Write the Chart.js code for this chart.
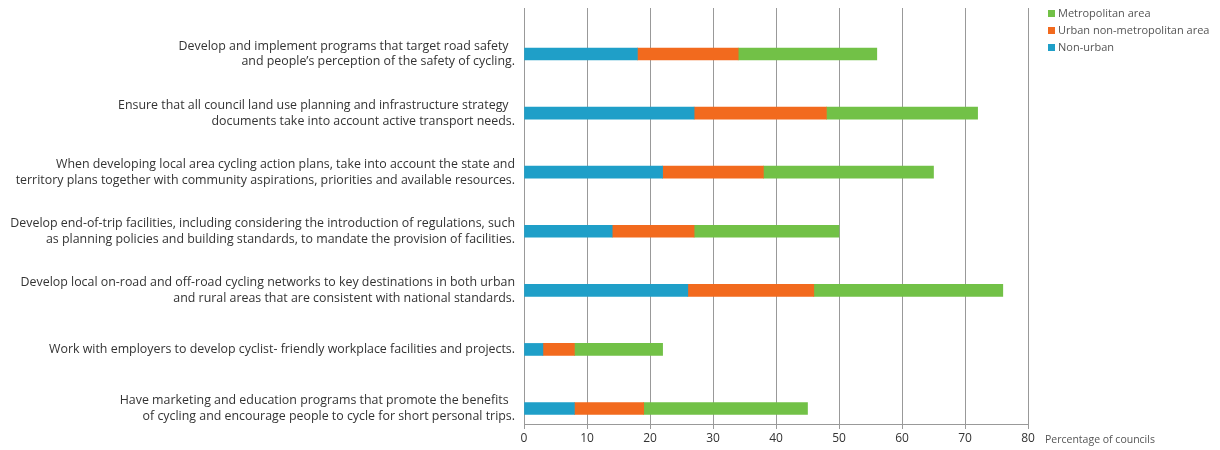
<!DOCTYPE html>
<html>
<head>
<meta charset="utf-8">
<script src="https://cdn.jsdelivr.net/npm/chart.js@4"></script>
<style>
  html, body { margin: 0; padding: 0; background: #fff; }
  #wrap { width: 1220px; height: 450px; }
</style>
</head>
<body>
<div id="wrap"><canvas id="chart"></canvas></div>
<script>
const categories = [
    ['Develop and implement programs that target road safety  ', 'and people\u2019s perception of the safety of cycling.'],
    ['Ensure that all council land use planning and infrastructure strategy  ', 'documents take into account active transport needs.'],
    ['When developing local area cycling action plans, take into account the state and', 'territory plans together with community aspirations, priorities and available resources.'],
    ['Develop end-of-trip facilities, including considering the introduction of regulations, such', 'as planning policies and building standards, to mandate the provision of facilities.'],
    ['Develop local on-road and off-road cycling networks to key destinations in both urban', 'and rural areas that are consistent with national standards.'],
    ['Work with employers to develop cyclist- friendly workplace facilities and projects.'],
    ['Have marketing and education programs that promote the benefits  ', 'of cycling and encourage people to cycle for short personal trips.']
];
const nonUrban = [18, 27, 22, 14, 26, 3, 8];
const urbanNonMetro = [16, 21, 16, 13, 20, 5, 11];
const metro = [22, 24, 27, 23, 30, 14, 26];
const xTicks = [0, 10, 20, 30, 40, 50, 60, 70, 80];

const toPoints = arr => arr.map((v, i) => ({ x: v, y: i }));

const series = [
    { label: 'Non-urban', data: toPoints(nonUrban), backgroundColor: '#1f9fc8' },
    { label: 'Urban non-metropolitan area', data: toPoints(urbanNonMetro), backgroundColor: '#f26a1e' },
    { label: 'Metropolitan area', data: toPoints(metro), backgroundColor: '#72c147' }
];

// legend + axis title drawn by hand so the plot area stays where it is
const extras = {
    id: 'extras',
    afterDraw(chart) {
        const c = chart.ctx;
        c.save();
        c.font = '11px "Open Sans"';
        c.textBaseline = 'middle';
        c.textAlign = 'left';
        const items = series.slice().reverse();
        items.forEach((s, i) => {
            const y = 14 + i * 17;
            c.fillStyle = s.backgroundColor;
            c.fillRect(1048, y - 4, 7, 7);
            c.fillStyle = '#555';
            c.fillText(s.label, 1058, y);
        });
        c.font = '10.5px "Open Sans"';
        c.fillText('Percentage of councils', 1045, 440);
        c.restore();
    }
};

const noPad = s => { s.paddingTop = 0; s.paddingBottom = 0; s.paddingLeft = 0; s.paddingRight = 0; };

new Chart(document.getElementById('chart'), {
    type: 'bar',
    data: { datasets: series },
    options: {
        indexAxis: 'y',
        responsive: true,
        maintainAspectRatio: false,
        animation: false,
        barThickness: 12,
        layout: { padding: { top: 8, right: 192, bottom: 0, left: 0 } },
        plugins: {
            legend: { display: false },
            tooltip: { enabled: false }
        },
        scales: {
            x: {
                type: 'linear',
                stacked: true,
                min: 0,
                max: 80,
                afterBuildTicks: s => { s.ticks = xTicks.map(v => ({ value: v })); },
                afterFit: s => { s.height = 26; noPad(s); },
                grid: { color: '#999', lineWidth: 1, tickLength: 5 },
                border: { color: '#999' },
                ticks: { color: '#333', font: { family: 'Open Sans', size: 12 }, padding: 2 }
            },
            y: {
                type: 'linear',
                stacked: true,
                reverse: true,
                offset: false,
                min: -0.779,
                max: 6.262,
                afterBuildTicks: s => { s.ticks = categories.map((c, i) => ({ value: i })); },
                afterFit: s => { s.width = 524; noPad(s); },
                grid: { display: false, drawTicks: false },
                border: { display: false },
                ticks: {
                    color: '#333',
                    padding: 9,
                    font: { family: 'Open Sans', size: 12.4, lineHeight: 1.28 },
                    callback: v => categories[v]
                }
            }
        }
    },
    plugins: [extras]
});
</script>
</body>
</html>
